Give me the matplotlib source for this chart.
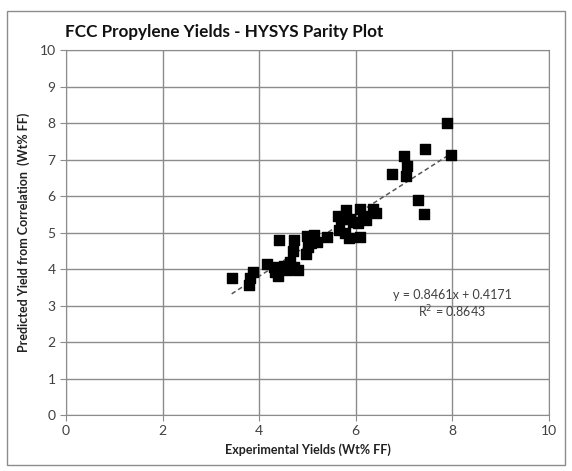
import matplotlib
matplotlib.use("Agg")
import matplotlib.pyplot as plt
import numpy as np
from matplotlib.patches import Rectangle

plt.rcParams['font.family'] = ['Lato', 'DejaVu Sans']

# experimental vs predicted propylene yields (wt% FF)
exp_yield = [3.43, 3.78, 3.80, 3.88, 4.17, 4.30, 4.33, 4.38, 4.52, 4.58,
             4.63, 4.72, 4.80, 4.42, 4.72, 4.70, 4.97, 5.02, 5.08, 4.98,
             5.14, 5.19, 5.40,
             5.63, 5.79, 6.08, 6.36, 6.41, 6.22, 6.05, 5.88, 5.70, 5.66,
             5.77, 5.86, 6.08, 6.15, 5.95,
             6.75, 7.03, 7.05, 7.00, 7.44, 7.88, 7.97, 7.28, 7.42]
pred_yield = [3.75, 3.56, 3.75, 3.92, 4.15, 4.05, 3.92, 3.80, 4.08, 3.97,
              4.18, 4.05, 3.98, 4.80, 4.80, 4.48, 4.40, 4.60, 4.70, 4.90,
              4.92, 4.75, 4.87,
              5.46, 5.62, 5.64, 5.65, 5.53, 5.35, 5.26, 5.37, 5.38, 5.07,
              4.98, 4.86, 4.89, 5.45, 5.28,
              6.61, 6.54, 6.83, 7.10, 7.29, 8.00, 7.13, 5.88, 5.52]

slope = 0.8461
intercept = 0.4171
r2 = 0.8643

fig = plt.figure(figsize=(5.72, 4.71), dpi=100)
ax = fig.add_axes([0.1154, 0.1189, 0.8444, 0.7749])

ax.scatter(exp_yield, pred_yield, marker='s', s=58, color='black', zorder=3)

xfit = np.array([min(exp_yield), max(exp_yield)])
ax.plot(xfit, slope * xfit + intercept, linestyle=(0, (3, 2)), color='#555555',
        linewidth=1.1, zorder=2)

ax.set_xlim(0, 10)
ax.set_ylim(0, 10)
ax.set_xticks(range(0, 11, 2))
ax.set_yticks(range(0, 11))
ax.grid(True, color='#8c8c8c', linewidth=1)
ax.set_axisbelow(True)
for sp in ax.spines.values():
    sp.set_color('#8c8c8c')
ax.tick_params(colors='#8c8c8c', labelcolor='#404040', labelsize=10, length=4)

ax.text(8.0, 3.30, 'y = 0.8461x + 0.4171', ha='center', va='center',
        fontsize=9, color='#404040')
ax.text(8.0, 2.82, 'R$^2$ = 0.8643', ha='center', va='center',
        fontsize=9, color='#404040')

ax.set_xlabel('Experimental Yields (Wt% FF)', fontsize=9, fontweight='bold',
              color='#222222', labelpad=4)
ax.set_ylabel('Predicted Yield from Correlation  (Wt% FF)', fontsize=9,
              fontweight='bold', color='#222222', labelpad=7)
fig.text(0.114, 0.932, 'FCC Propylene Yields - HYSYS Parity Plot', fontsize=12.3,
         fontweight='bold', color='#111111', va='center', ha='left')

fig.patches.append(Rectangle((0.012, 0.012), 0.976, 0.965, transform=fig.transFigure,
                             fill=False, edgecolor='#8c8c8c', linewidth=1))

fig.savefig('out.png', dpi=100)
